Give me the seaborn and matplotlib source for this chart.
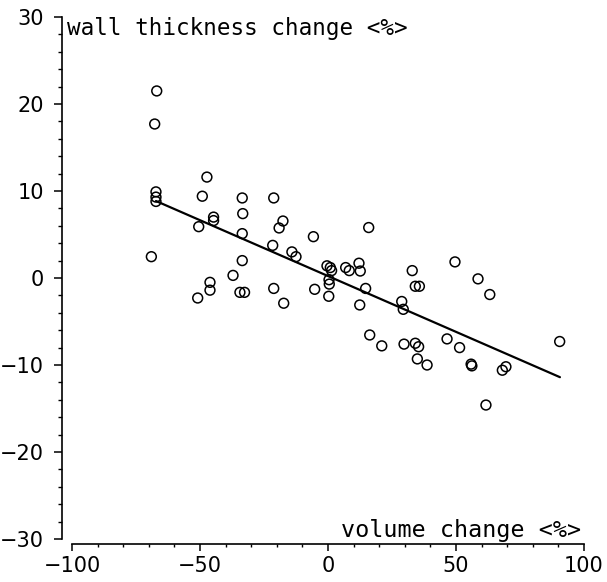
import numpy as np
import pandas as pd
import matplotlib
matplotlib.use("Agg")
import matplotlib.pyplot as plt
from matplotlib.ticker import MultipleLocator
import seaborn as sns

# ---- data ----
volume_change = [-66.9, -67.7, -67.2, -67.2, -67.2, -69.0, -47.3, -49.1, -33.5, -44.7,
                 -44.7, -50.5, -33.3, -33.5, -33.5, -37.1, -46.1, -46.1, -50.9, -34.4,
                 -32.6, -21.2, -17.6, -19.1, -5.7, 15.9, -21.6, -14.1, -12.5, -0.4,
                 0.9, 1.4, 0.4, 0.5, 0.3, 6.9, 8.3, 12.1, 12.6, 14.7,
                 12.4, -5.2, -21.2, -17.3, 16.3, 21.0, 32.9, 34.1, 35.7, 49.6,
                 58.6, 63.2, 28.8, 29.4, 29.7, 34.1, 35.4, 34.9, 38.7, 46.5,
                 51.4, 55.9, 56.2, 68.1, 69.5, 90.5, 61.7]
wall_thickness_change = [21.5, 17.7, 9.9, 9.3, 8.8, 2.45, 11.6, 9.4, 9.2, 7.0,
                         6.6, 5.9, 7.4, 5.1, 2.0, 0.3, -0.5, -1.4, -2.3, -1.65,
                         -1.65, 9.2, 6.55, 5.75, 4.75, 5.8, 3.75, 3.0, 2.45, 1.4,
                         1.2, 0.85, -0.2, -0.7, -2.1, 1.2, 0.85, 1.7, 0.8, -1.2,
                         -3.1, -1.3, -1.2, -2.9, -6.55, -7.8, 0.85, -0.95, -0.95, 1.85,
                         -0.1, -1.9, -2.7, -3.6, -7.6, -7.5, -7.9, -9.3, -10.0, -7.0,
                         -8.0, -9.9, -10.1, -10.6, -10.2, -7.3, -14.6]
fit_volume = [-67.2, 90.6]
fit_wall = [8.85, -11.4]

x_ticks = [-100, -50, 0, 50, 100]
y_ticks = [-30, -20, -10, 0, 10, 20, 30]
x_label = "volume change <%>"
y_label = "wall thickness change <%>"

df = pd.DataFrame({"x": volume_change, "y": wall_thickness_change})
fit = pd.DataFrame({"x": fit_volume, "y": fit_wall})

sns.set_style("ticks")
plt.rcParams["font.family"] = ["DejaVu Sans"]
plt.rcParams["text.color"] = "black"
plt.rcParams["xtick.labelcolor"] = "black"
plt.rcParams["ytick.labelcolor"] = "black"

fig = plt.figure(figsize=(6.07, 5.82), dpi=100)
ax = fig.add_axes([72 / 607, 1 - 539 / 582, 512 / 607, 522 / 582])

sns.scatterplot(data=df, x="x", y="y", ax=ax, marker="o", s=50,
                facecolors="none", edgecolor="black", linewidth=1.1)
sns.lineplot(data=fit, x="x", y="y", ax=ax, color="black", linewidth=1.6)

ax.set_xlim(-100, 100)
ax.set_ylim(-30, 30)
ax.set_xticks(x_ticks)
ax.set_yticks(y_ticks)
ax.set_xticklabels([f"{v:g}".replace("-", "\u2212") for v in x_ticks])
ax.set_yticklabels([f"{v:g}".replace("-", "\u2212") for v in y_ticks])
ax.xaxis.set_minor_locator(MultipleLocator(10))
ax.yaxis.set_minor_locator(MultipleLocator(2))
ax.set_xlabel("")
ax.set_ylabel("")

for s in ["top", "right"]:
    ax.spines[s].set_visible(False)
ax.spines["left"].set_position(("outward", 7.2))
ax.spines["bottom"].set_position(("outward", 3.6))
for s in ["left", "bottom"]:
    ax.spines[s].set_linewidth(1.2)
    ax.spines[s].set_color("black")

ax.tick_params(axis="y", which="major", length=6, width=1.1, pad=7,
               labelsize=15, color="black", labelcolor="black")
ax.tick_params(axis="y", which="minor", length=3, width=1.0, color="black")
ax.tick_params(axis="x", which="major", length=5, width=1.1, pad=4,
               labelsize=15, color="black", labelcolor="black")
ax.tick_params(axis="x", which="minor", length=2.5, width=1.0, color="black")

ax.text(-0.01, 1.0, y_label, transform=ax.transAxes, ha="left", va="top",
        family="DejaVu Sans Mono", fontsize=16.3, color="black")
ax.text(0.995, -29.77, x_label, transform=ax.get_yaxis_transform(),
        ha="right", va="baseline", family="DejaVu Sans Mono", fontsize=16.8,
        color="black")

fig.savefig("out.png", dpi=100)
